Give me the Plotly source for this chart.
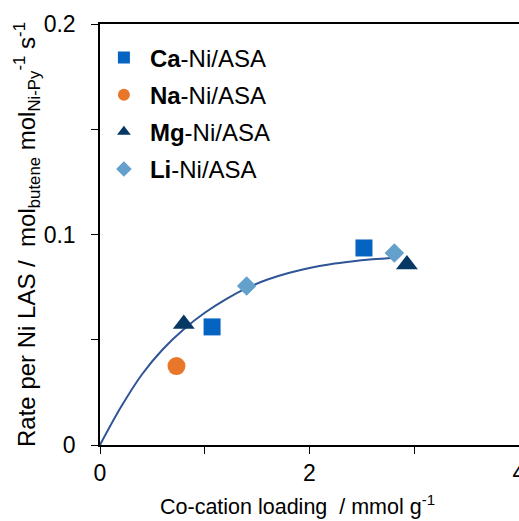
import plotly.graph_objects as go

# Data
ca_x = [1.07, 2.52]
ca_y = [0.0561, 0.0936]
na_x = [0.73]
na_y = [0.0375]
mg_x = [0.80, 2.93]
mg_y = [0.0575, 0.0858]
li_x = [1.40, 2.81]
li_y = [0.0755, 0.0912]

fit_x = [0, 0.2, 0.4, 0.6, 0.8, 1.0, 1.2, 1.4, 1.6, 1.8, 2.0, 2.2, 2.4, 2.6, 2.82]
fit_y = [0, 0.0180, 0.0335, 0.0455, 0.0550, 0.0628, 0.0692, 0.0745, 0.0786, 0.0817,
         0.0841, 0.0859, 0.0872, 0.0882, 0.0890]

x_ticks = [0, 1, 2, 3, 4]
x_labels = ["0", "", "2", "", "4"]
y_ticks = [0, 0.05, 0.1, 0.15, 0.2]
y_labels = ["0", "", "0.1", "", "0.2"]

FONT = "Liberation Sans"

fig = go.Figure()
fig.add_trace(go.Scatter(x=fit_x, y=fit_y, mode="lines", line=dict(color="#2F5597", width=2, shape="spline"),
                         showlegend=False, hoverinfo="skip"))
fig.add_trace(go.Scatter(x=ca_x, y=ca_y, mode="markers", name="<b>Ca</b>-Ni/ASA", legendgroup="ca",
                         marker=dict(symbol="square", size=17, color="#0563C1")))
fig.add_trace(go.Scatter(x=na_x, y=na_y, mode="markers", name="<b>Na</b>-Ni/ASA", legendgroup="na",
                         marker=dict(symbol="circle", size=18, color="#E8772A")))
fig.add_trace(go.Scatter(x=mg_x, y=mg_y, mode="markers", name="<b>Mg</b>-Ni/ASA", legendgroup="mg",
                         marker=dict(symbol="triangle-up", size=19, color="#073763")))
fig.add_trace(go.Scatter(x=li_x, y=li_y, mode="markers", name="<b>Li</b>-Ni/ASA", legendgroup="li",
                         marker=dict(symbol="diamond", size=15, color="#64A0CC")))

fig.update_layout(
    width=519, height=521,
    margin=dict(l=100, r=0, t=24, b=76),
    paper_bgcolor="white", plot_bgcolor="white",
    font=dict(family=FONT, size=19, color="black"),
    legend=dict(x=-0.005, y=0.973, xanchor="left", yanchor="top", bgcolor="rgba(0,0,0,0)",
                font=dict(family=FONT, size=24, color="black"), tracegroupgap=3,
                itemsizing="constant", itemwidth=42),
    xaxis=dict(range=[0, 4], tickvals=x_ticks, ticktext=x_labels, ticks="outside", ticklen=7,
               tickfont=dict(family=FONT, size=23, color="black"), ticklabeloverflow="allow",
               tickcolor="black", showline=True, linecolor="black", linewidth=1.5, mirror=True,
               showgrid=False, zeroline=False, automargin=False,
               title=dict(text="Co-cation loading  / mmol g<sup>-1</sup>&nbsp;&nbsp;&nbsp;&nbsp;", standoff=14,
                          font=dict(family=FONT, size=21.5, color="black"))),
    yaxis=dict(range=[0, 0.2], tickvals=y_ticks, ticktext=y_labels, ticks="outside", ticklen=7,
               tickfont=dict(family=FONT, size=23, color="black"), ticklabelstandoff=11,
               tickcolor="black", showline=True, linecolor="black", linewidth=1.5,
               showgrid=False, zeroline=False, automargin=False,
               title=dict(text="Rate per Ni LAS /  mol<sub>butene</sub> mol<sub>Ni-Py</sub><sup>-1</sup> s<sup>-1</sup>",
                          standoff=1, font=dict(family=FONT, size=24, color="black"))),
)

fig.write_html("out.html")
